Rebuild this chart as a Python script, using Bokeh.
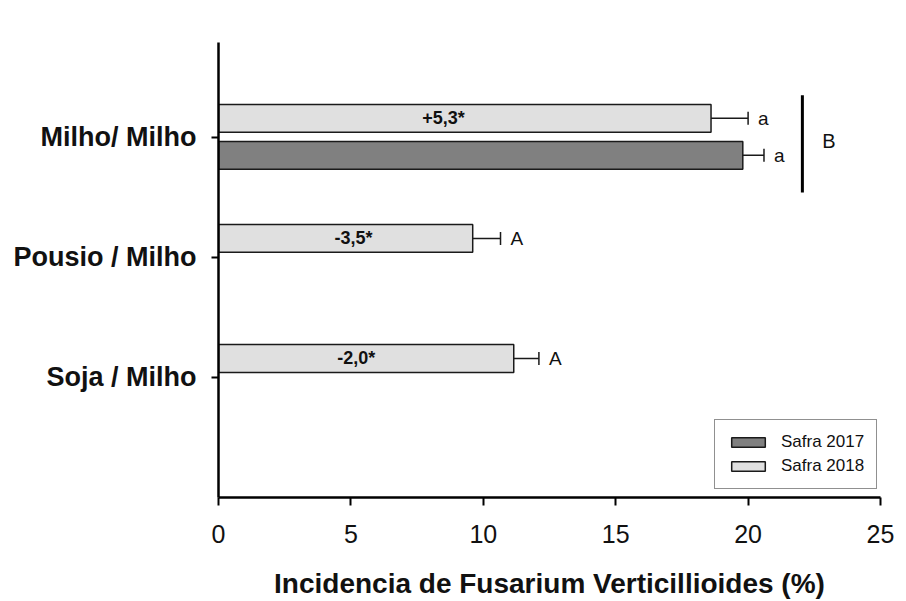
from bokeh.plotting import figure
from bokeh.models import (ColumnDataSource, Whisker, TeeHead, Legend, LegendItem,
                          FixedTicker, Range1d)
from bokeh.core.properties import value
from bokeh.embed import file_html
from bokeh.resources import INLINE

# ---- data ----
categories = ["Milho/ Milho", "Pousio / Milho", "Soja / Milho"]
safra2018 = [18.6, 9.6, 11.15]
err2018 = [1.4, 1.05, 0.95]
letters2018 = ["a", "A", "A"]
diff_labels = ["+5,3*", "-3,5*", "-2,0*"]
safra2017_cats = ["Milho/ Milho"]
safra2017 = [19.8]
err2017 = [0.8]
letters2017 = ["a"]
group_letter = "B"
x_ticks = [0, 5, 10, 15, 20, 25]

FONT = "Liberation Sans"
n = len(categories)
ypos = {c: n - i for i, c in enumerate(categories)}

p = figure(width=906, height=601, x_range=Range1d(0, 25), y_range=Range1d(0, 3.79),
           output_backend="svg", toolbar_location=None,
           min_border_left=218, min_border_right=26, min_border_top=42, min_border_bottom=103)
p.outline_line_color = None
p.xgrid.visible = False
p.ygrid.visible = False
p.background_fill_color = "white"
p.border_fill_color = "white"

off18, off17, bh = 0.158, -0.15, 0.232

s18 = ColumnDataSource(dict(
    y=[ypos[c] + off18 for c in categories],
    v=safra2018,
    lo=[v - e for v, e in zip(safra2018, err2018)],
    hi=[v + e for v, e in zip(safra2018, err2018)],
    let=letters2018,
    diff=diff_labels,
    dx=[8.5, 5.1, 5.2],
))
s17 = ColumnDataSource(dict(
    y=[ypos[c] + off17 for c in safra2017_cats],
    v=safra2017,
    lo=[v - e for v, e in zip(safra2017, err2017)],
    hi=[v + e for v, e in zip(safra2017, err2017)],
    let=letters2017,
))

r18 = p.hbar(y="y", left=0, right="v", height=bh, source=s18,
             fill_color="#e0e0e0", line_color="#1a1a1a", line_width=1.5)
r17 = p.hbar(y="y", left=0, right="v", height=bh, source=s17,
             fill_color="#808080", line_color="#1a1a1a", line_width=1.5)

for src in (s18, s17):
    w = Whisker(base="y", lower="lo", upper="hi", dimension="width", source=src,
                line_color="#1a1a1a", line_width=1.5,
                upper_head=TeeHead(size=13, line_color="#1a1a1a", line_width=1.5),
                lower_head=TeeHead(size=13, line_color="#1a1a1a", line_width=1.8))
    p.add_layout(w)
    p.text(x="hi", y="y", text="let", source=src, x_offset=10,
           text_align="left", text_baseline="middle",
           text_font=value(FONT), text_font_size="19px", text_color="#111111")

p.text(x="dx", y="y", text="diff", source=s18, text_align="center",
       text_baseline="middle", text_font=value(FONT), text_font_size="18px",
       text_font_style="bold", text_color="#111111")

# group bracket + letter
gy = ypos["Milho/ Milho"]
p.segment(x0=[22.05], x1=[22.05], y0=[gy - 0.46], y1=[gy + 0.35],
          line_color="black", line_width=3)
p.text(x=[22.8], y=[gy - 0.03], text=[group_letter], text_align="left",
       text_baseline="middle", text_font=value(FONT), text_font_size="20px",
       text_color="#111111")

# axes
p.xaxis.ticker = FixedTicker(ticks=x_ticks)
p.xaxis.minor_tick_line_color = None
p.xaxis.major_tick_in = 0
p.xaxis.major_tick_out = 8
p.xaxis.axis_line_width = 2.5
p.xaxis.major_tick_line_width = 2
p.xaxis.major_label_text_font = FONT
p.xaxis.major_label_text_font_size = "25px"
p.xaxis.major_label_text_color = "#111111"
p.xaxis.major_label_standoff = 19
p.xaxis.axis_label = "Incidencia de Fusarium Verticillioides (%)"
p.xaxis.axis_label_text_font = FONT
p.xaxis.axis_label_text_font_size = "28px"
p.xaxis.axis_label_text_font_style = "bold"
p.xaxis.axis_label_text_color = "#111111"
p.xaxis.axis_label_standoff = 22

p.yaxis.ticker = FixedTicker(ticks=[ypos[c] for c in categories])
p.yaxis.major_label_overrides = {ypos[c]: c for c in categories}
p.yaxis.minor_tick_line_color = None
p.yaxis.major_tick_in = 0
p.yaxis.major_tick_out = 7
p.yaxis.axis_line_width = 2.5
p.yaxis.major_tick_line_width = 2
p.yaxis.major_label_text_font = FONT
p.yaxis.major_label_text_font_size = "27px"
p.yaxis.major_label_text_font_style = "bold"
p.yaxis.major_label_text_color = "#111111"
p.yaxis.major_label_standoff = 15

legend = Legend(items=[LegendItem(label="Safra 2017", renderers=[r17]),
                       LegendItem(label="Safra 2018", renderers=[r18])],
                location=(496, 8), margin=0, padding=12, spacing=4,
                glyph_width=42, glyph_height=12, label_height=20,
                label_standoff=12, label_text_font=FONT, label_text_font_size="17px",
                label_text_color="#111111", border_line_color="#222222",
                border_line_width=1.2, background_fill_alpha=1.0)
p.add_layout(legend, "center")

open("out.html", "w").write(file_html(p, INLINE))
